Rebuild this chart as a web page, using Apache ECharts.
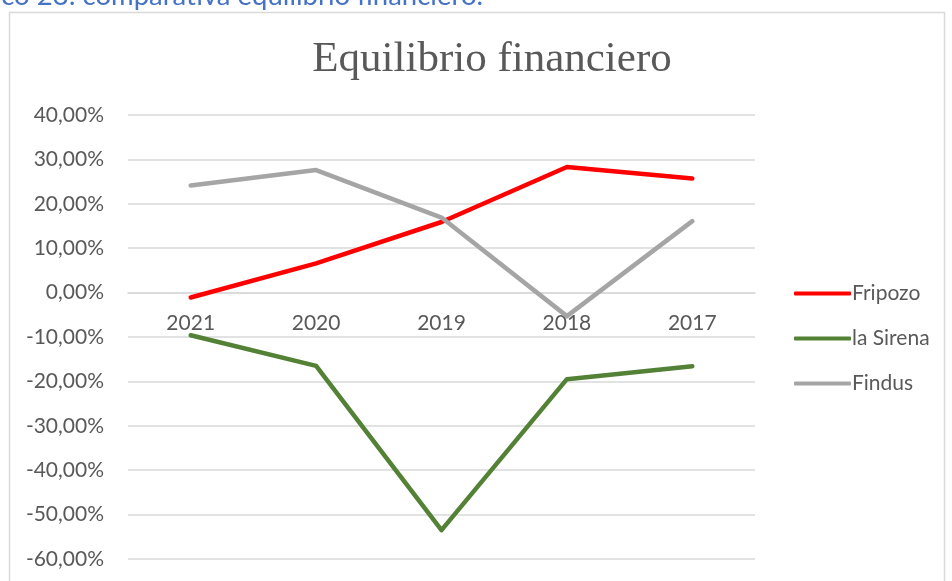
<!DOCTYPE html>
<html>
<head>
<meta charset="utf-8">
<title>Equilibrio financiero</title>
<script src="https://cdn.jsdelivr.net/npm/echarts@6/dist/echarts.min.js"></script>
<style>
  html, body { margin: 0; padding: 0; background: #fff; }
  #chart { width: 952px; height: 581px; }
</style>
</head>
<body>
<div id="chart"></div>
<script>
// datos (en %)
const years = ['2021', '2020', '2019', '2018', '2017']
const fripozo = [-1.1, 6.6, 15.9, 28.3, 25.7]
const laSirena = [-9.6, -16.5, -53.5, -19.5, -16.6]
const findus = [24.1, 27.6, 16.9, -5.3, 16.1]

const seriesNames = ['Fripozo', 'la Sirena', 'Findus']
const seriesColors = ['#ff0000', '#538135', '#a5a5a5']

const chart = echarts.init(document.getElementById('chart'))

const makeLine = (name, data, color) => ({
  name: name,
  type: 'line',
  data: data,
  symbol: 'none',
  lineStyle: { color: color, width: 4.5, cap: 'round', join: 'round' },
  itemStyle: { color: color },
  z: 3
})

// el eje X va sobre la línea del 0 (grid: top 115, alto 444, rango -60..40)
const gridTop = 115
const gridBottom = 22
const plotHeight = 581 - gridTop - gridBottom
const zeroOffset = -plotHeight * 60 / 100

const option = {
  animation: false,
  textStyle: { fontFamily: 'Lato' },
  title: {
    text: 'Equilibrio financiero',
    left: 487,
    top: 33,
    textAlign: 'center',
    textStyle: {
      fontFamily: 'Liberation Serif',
      fontSize: 43,
      fontWeight: 'normal',
      color: '#595959'
    }
  },
  graphic: [
    {
      type: 'rect',
      shape: { x: 9.5, y: 12.5, width: 935, height: 600 },
      style: { fill: 'none', stroke: '#d9d9d9', lineWidth: 1.5 },
      silent: true
    },
    {
      type: 'text',
      x: 483,
      y: 10,
      style: {
        text: 'Gráfico 23: comparativa equilibrio financiero.',
        align: 'right',
        verticalAlign: 'bottom',
        fontFamily: 'Lato',
        fontSize: 27.5,
        fill: '#4472c4'
      },
      silent: true
    }
  ],
  legend: {
    orient: 'vertical',
    left: 789,
    top: 278,
    itemGap: 24,
    itemWidth: 57,
    itemHeight: 4,
    icon: 'roundRect',
    textStyle: { fontFamily: 'Lato', fontSize: 21, color: '#595959', padding: [0, 0, 0, -4] },
    data: seriesNames
  },
  grid: {
    left: 128,
    right: 197,
    top: gridTop,
    bottom: gridBottom,
    containLabel: false
  },
  xAxis: {
    type: 'category',
    data: years,
    boundaryGap: true,
    offset: zeroOffset,
    axisLine: { onZero: false, lineStyle: { color: '#d9d9d9', width: 1.5 } },
    axisTick: { show: false },
    axisLabel: {
      fontFamily: 'Lato',
      fontSize: 21,
      color: '#595959',
      margin: 20
    }
  },
  yAxis: {
    type: 'value',
    min: -60,
    max: 40,
    interval: 10,
    axisLine: { show: false },
    axisTick: { show: false },
    splitLine: { lineStyle: { color: '#d9d9d9', width: 1.5 } },
    axisLabel: {
      fontFamily: 'Lato',
      fontSize: 21,
      color: '#595959',
      margin: 24,
      formatter: v => v.toFixed(2).replace('.', ',') + '%'
    }
  },
  series: [
    makeLine(seriesNames[0], fripozo, seriesColors[0]),
    makeLine(seriesNames[1], laSirena, seriesColors[1]),
    makeLine(seriesNames[2], findus, seriesColors[2])
  ]
}

chart.setOption(option)
</script>
</body>
</html>
